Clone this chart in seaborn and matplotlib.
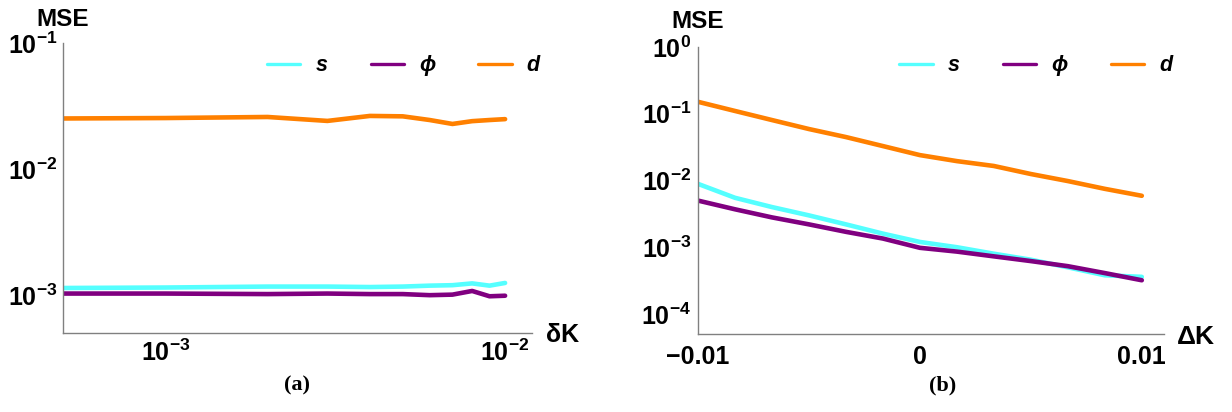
import numpy as np
import pandas as pd
import matplotlib
matplotlib.use("Agg")
import matplotlib.pyplot as plt
import seaborn as sns

# ---- data -------------------------------------------------------------
series_names = ["s", "ϕ", "d"]
series_colors = ["#55FFFF", "#800080", "#FF8000"]

# panel (a): MSE versus deltaK (log-log)
small_dk = [5e-4, 1e-3, 2e-3, 3e-3, 4e-3, 5e-3, 6e-3, 7e-3, 8e-3, 9e-3, 1e-2]
mse_a_s = [1.14e-3, 1.15e-3, 1.17e-3, 1.17e-3, 1.16e-3, 1.17e-3, 1.19e-3, 1.20e-3, 1.24e-3, 1.19e-3, 1.25e-3]
mse_a_phi = [1.03e-3, 1.03e-3, 1.02e-3, 1.03e-3, 1.02e-3, 1.02e-3, 1.00e-3, 1.01e-3, 1.08e-3, 0.98e-3, 0.99e-3]
mse_a_d = [0.0252, 0.0254, 0.0259, 0.0241, 0.0264, 0.0262, 0.0245, 0.0228, 0.0240, 0.0245, 0.0249]

# panel (b): MSE versus DeltaK (log y)
big_dk = [-0.01, -0.00833, -0.00667, -0.005, -0.00333, -0.00167, 0.0,
          0.00167, 0.00333, 0.005, 0.00667, 0.00833, 0.01]
mse_b_s = [0.0089, 0.0055, 0.0040, 0.0030, 0.0022, 0.0016, 0.00120,
           0.00100, 0.00080, 0.00065, 0.00050, 0.00038, 0.00036]
mse_b_phi = [0.0050, 0.0037, 0.0028, 0.0022, 0.0017, 0.00135, 0.00098,
             0.00086, 0.00073, 0.00062, 0.00052, 0.00041, 0.00032]
mse_b_d = [0.151, 0.110, 0.0805, 0.059, 0.0447, 0.0328, 0.024,
           0.0195, 0.0165, 0.0125, 0.0098, 0.0075, 0.0059]

a_xticks = [1e-3, 1e-2]
a_xticklabels = [r"$\mathdefault{10^{-3}}$", r"$\mathdefault{10^{-2}}$"]
a_yticks = [1e-3, 1e-2, 1e-1]
a_yticklabels = [r"$\mathdefault{10^{-3}}$", r"$\mathdefault{10^{-2}}$", r"$\mathdefault{10^{-1}}$"]
b_xticks = [-0.01, 0.0, 0.01]
b_xticklabels = ["\u22120.01", "0", "0.01"]
b_yticks = [1e-4, 1e-3, 1e-2, 1e-1, 1e0]
b_yticklabels = [r"$\mathdefault{10^{-4}}$", r"$\mathdefault{10^{-3}}$", r"$\mathdefault{10^{-2}}$",
                 r"$\mathdefault{10^{-1}}$", r"$\mathdefault{10^{0}}$"]

# ---- style ------------------------------------------------------------
sns.set_theme(style="white")
plt.rcParams["font.family"] = ["Liberation Sans", "DejaVu Sans"]
plt.rcParams["font.weight"] = "bold"
plt.rcParams["text.color"] = "black"
plt.rcParams["mathtext.fontset"] = "custom"
plt.rcParams["mathtext.rm"] = "Liberation Sans:bold"
plt.rcParams["mathtext.default"] = "regular"

AXIS_GRAY = "#808080"
TICK_SIZE = 18


def long_form(x, values):
    frames = []
    for name, ys in zip(series_names, values):
        frames.append(pd.DataFrame({"x": x, "mse": ys, "series": name}))
    return pd.concat(frames, ignore_index=True)


df_a = long_form(small_dk, [mse_a_s, mse_a_phi, mse_a_d])
df_b = long_form(big_dk, [mse_b_s, mse_b_phi, mse_b_d])

fig = plt.figure(figsize=(12.32, 4.12), dpi=100)
W, H = 1232, 412
ax_a = fig.add_axes([63 / W, 1 - 333 / H, 469 / W, 290 / H])
ax_b = fig.add_axes([698 / W, 1 - 334 / H, 466 / W, 287 / H])

palette = dict(zip(series_names, series_colors))

for ax, df in ((ax_a, df_a), (ax_b, df_b)):
    sns.lineplot(data=df, x="x", y="mse", hue="series", hue_order=series_names,
                 palette=palette, linewidth=3.3, ax=ax, legend=False, sort=False)
    ax.set_yscale("log")
    for side in ("top", "right"):
        ax.spines[side].set_visible(False)
    for side in ("left", "bottom"):
        ax.spines[side].set_color(AXIS_GRAY)
        ax.spines[side].set_linewidth(1.0)
    ax.minorticks_off()
    ax.tick_params(axis="both", which="major", direction="in", length=5,
                   width=1.0, color=AXIS_GRAY, labelsize=TICK_SIZE, labelcolor="black")
    ax.set_xlabel("")
    ax.set_ylabel("")

# panel (a) axes
ax_a.set_xscale("log")
ax_a.set_xlim(5e-4, 1.2e-2)
ax_a.set_ylim(10 ** -3.3, 1e-1)
ax_a.minorticks_off()
ax_a.set_xticks(a_xticks)
ax_a.set_xticklabels(a_xticklabels, fontweight="bold")
ax_a.set_yticks(a_yticks)
ax_a.set_yticklabels(a_yticklabels, fontweight="bold")
ax_a.tick_params(axis="x", pad=5)
ax_a.tick_params(axis="y", pad=4)

# panel (b) axes
ax_b.set_xlim(-0.01, 0.011)
ax_b.set_ylim(10 ** -4.3, 1e0)
ax_b.minorticks_off()
ax_b.set_xticks(b_xticks)
ax_b.set_xticklabels(b_xticklabels, fontweight="bold")
ax_b.set_yticks(b_yticks)
ax_b.set_yticklabels(b_yticklabels, fontweight="bold")
ax_b.tick_params(axis="x", pad=8)
ax_b.tick_params(axis="y", pad=5)

# axis titles at the ends of the axes
fig.text(63 / W, 1 - 19 / H, "MSE", ha="center", va="center", fontsize=17.5,
         fontweight="bold", color="black")
fig.text(698 / W, 1 - 22 / H, "MSE", ha="center", va="center", fontsize=17.5,
         fontweight="bold", color="black")
fig.text(546 / W, 1 - 335 / H, "δK", ha="left", va="center", fontsize=18,
         fontweight="bold", color="black")
fig.text(1177 / W, 1 - 337 / H, "ΔK", ha="left", va="center", fontsize=19,
         fontweight="bold", color="black")

# panel captions
fig.text(297 / W, 1 - 385 / H, "(a)", ha="center", va="center", fontsize=16,
         fontweight="bold", family="Liberation Serif", color="black")
fig.text(943 / W, 1 - 385 / H, "(b)", ha="center", va="center", fontsize=16,
         fontweight="bold", family="Liberation Serif", color="black")

# legends
handles = [plt.Line2D([], [], color=c, linewidth=2.4) for c in series_colors]
for ax, anchor in ((ax_a, (0.435, 0.921)), (ax_b, (0.432, 0.934))):
    leg = ax.legend(handles, series_names, ncol=3, loc="center left",
                    bbox_to_anchor=anchor, frameon=False, borderpad=0,
                    borderaxespad=0, handlelength=1.55, handletextpad=0.7,
                    columnspacing=2.0, labelcolor="black",
                    prop={"size": 15.5, "weight": "bold", "style": "italic",
                          "family": ["Liberation Sans", "DejaVu Sans"]})

fig.savefig("out.png", dpi=100)
